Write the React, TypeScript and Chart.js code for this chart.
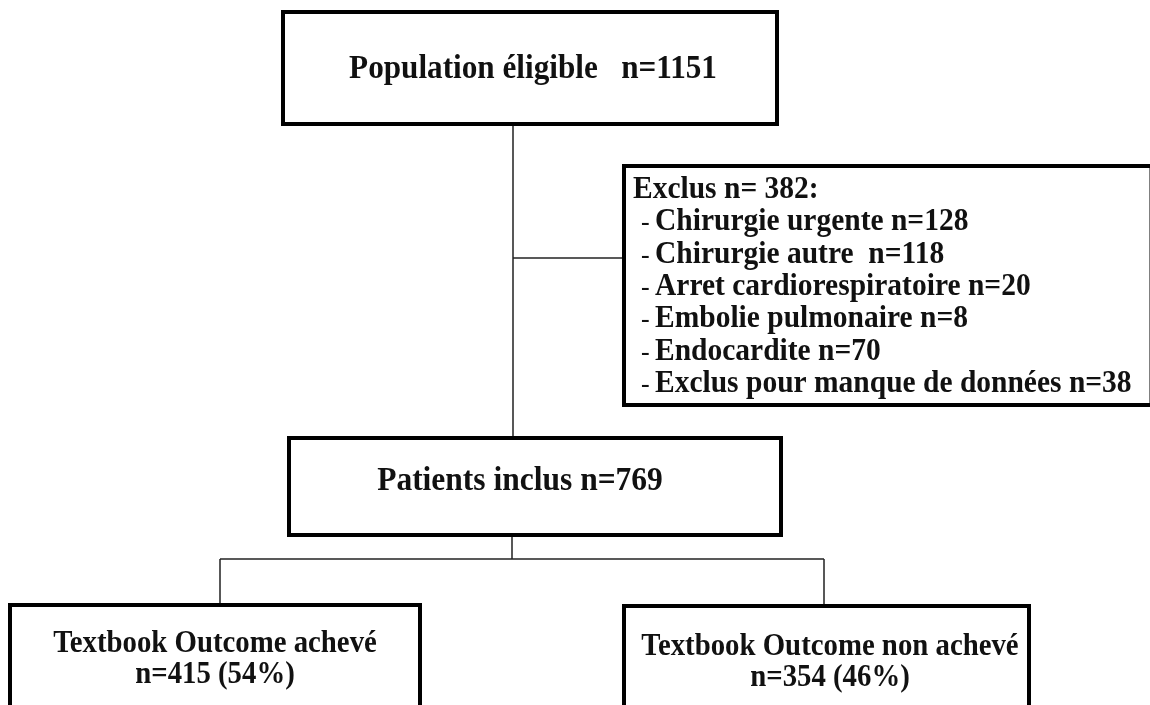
import React, { useEffect, useRef } from "react";
import { Chart, registerables } from "chart.js";

Chart.register(...registerables);

// ---- data ----
const eligibleLabel = "Population éligible   n=";
const eligibleN = 1151;
const excludedLabel = "Exclus n= ";
const excludedN = 382;
const exclusionReasons = [
  "Chirurgie urgente",
  "Chirurgie autre ",
  "Arret cardiorespiratoire",
  "Embolie pulmonaire",
  "Endocardite",
  "Exclus pour manque de données",
];
const exclusionCounts = [128, 118, 20, 8, 70, 38];
const includedLabel = "Patients inclus n=";
const includedN = 769;
const outcomeLabels = ["Textbook Outcome achevé", "Textbook Outcome non achevé"];
const outcomeCounts = [415, 354];
const outcomePercents = [54, 46];

// ---- layout (positions in scale units) ----
const W = 1150;
const H = 705;
const FONT = '"Liberation Serif", "Times New Roman", serif';
const V_STRETCH = 1.06;

type Box = { x0: number; y0: number; x1: number; y1: number };
const boxEligible: Box = { x0: 283, y0: 12, x1: 777, y1: 124 };
const boxExcluded: Box = { x0: 624, y0: 166, x1: 1151.5, y1: 405 };
const boxIncluded: Box = { x0: 289, y0: 438, x1: 781, y1: 535 };
const boxOut1: Box = { x0: 10, y0: 605, x1: 420, y1: 760 };
const boxOut2: Box = { x0: 624, y0: 606, x1: 1029, y1: 760 };

const connectorSegments = [
  [{ x: 513, y: 124 }, { x: 513, y: 438 }],
  [{ x: 513, y: 258 }, { x: 624, y: 258 }],
  [{ x: 512, y: 535 }, { x: 512, y: 559 }],
  [{ x: 220, y: 559 }, { x: 824, y: 559 }],
  [{ x: 220, y: 559 }, { x: 220, y: 605 }],
  [{ x: 824, y: 559 }, { x: 824, y: 606 }],
];

export default function App() {
  const ref = useRef<HTMLCanvasElement | null>(null);

  useEffect(() => {
    document.body.style.margin = "0";
    const canvas = ref.current;
    if (!canvas) return;

    const boxesPlugin = {
      id: "flowBoxes",
      afterDatasetsDraw(chart: any) {
        const ctx = chart.ctx as CanvasRenderingContext2D;
        const xs = chart.scales.x;
        const ys = chart.scales.y;
        const px = (v: number) => xs.getPixelForValue(v);
        const py = (v: number) => ys.getPixelForValue(v);

        const drawBox = (b: Box) => {
          ctx.save();
          ctx.fillStyle = "#ffffff";
          ctx.strokeStyle = "#000000";
          ctx.lineWidth = 4;
          const x = px(b.x0), y = py(b.y0);
          const w = px(b.x1) - x, h = py(b.y1) - y;
          ctx.fillRect(x, y, w, h);
          ctx.strokeRect(x, y, w, h);
          ctx.restore();
        };
        const text = (s: string, x: number, y: number, size: number, align: CanvasTextAlign, weight = "bold") => {
          ctx.save();
          ctx.fillStyle = "#111111";
          ctx.font = `${weight} ${size}px ${FONT}`;
          ctx.textAlign = align;
          ctx.textBaseline = "alphabetic";
          ctx.translate(px(x), py(y));
          ctx.scale(1, V_STRETCH);
          ctx.fillText(s, 0, 0);
          ctx.restore();
        };

        [boxEligible, boxExcluded, boxIncluded, boxOut1, boxOut2].forEach(drawBox);

        text(`${eligibleLabel}${eligibleN}`, 533, 78, 31.2, "center");

        text(`${excludedLabel}${excludedN}:`, 633, 198, 29.5, "left");
        exclusionReasons.forEach((r, i) => {
          const y = 198 + (i + 1) * 32.3;
          text("-", 641, y, 26, "left", "normal");
          text(`${r} n=${exclusionCounts[i]}`, 655, y, 29.5, "left");
        });

        text(`${includedLabel}${includedN}`, 520, 490, 31.5, "center");

        const centers = [215, 830];
        const base1 = [652, 655];
        outcomeLabels.forEach((l, i) => {
          text(l, centers[i], base1[i], 28.8, "center");
          text(`n=${outcomeCounts[i]} (${outcomePercents[i]}%)`, centers[i], base1[i] + 31, 28.8, "center");
        });
      },
    };

    const chart = new Chart(canvas, {
      type: "scatter",
      data: {
        datasets: connectorSegments.map((seg, i) => ({
          label: `connector ${i + 1}`,
          data: seg,
          showLine: true,
          borderColor: "#222222",
          borderWidth: 1.5,
          pointRadius: 0,
          fill: false,
        })),
      },
      options: {
        animation: false,
        responsive: false,
        maintainAspectRatio: false,
        events: [],
        layout: { padding: 0 },
        plugins: { legend: { display: false }, tooltip: { enabled: false } },
        scales: {
          x: { type: "linear", min: 0, max: W, display: false },
          y: { type: "linear", min: 0, max: H, reverse: true, display: false },
        },
      },
      plugins: [boxesPlugin],
    });

    return () => chart.destroy();
  }, []);

  return (
    <div style={{ width: W, height: H, background: "#ffffff" }}>
      <canvas ref={ref} width={W} height={H} style={{ display: "block" }} />
    </div>
  );
}
